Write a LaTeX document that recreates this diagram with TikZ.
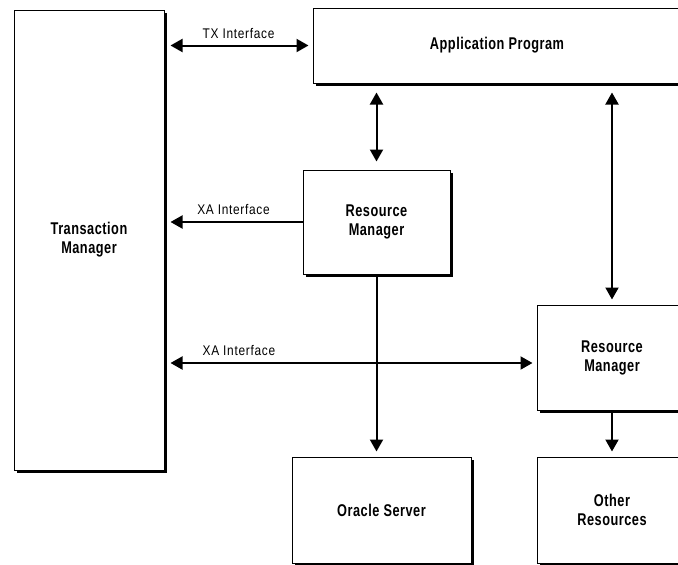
\documentclass[tikz,border=0pt]{standalone}
\usepackage{fontspec}
\setmainfont{Liberation Sans}
\newfontfamily\boxfont{Liberation Sans}[FakeStretch=0.75,LetterSpace=3]
\newfontfamily\labelfont{Liberation Sans}[FakeStretch=0.85,LetterSpace=5]
\usetikzlibrary{arrows.meta,shadows}
\tikzset{%
  box/.style={draw,line width=1pt,fill=white,align=center,inner sep=0pt,
    font=\boxfont\fontsize{17}{19}\selectfont\bfseries,
    drop shadow={shadow xshift=3pt,shadow yshift=-3pt,fill=black,opacity=1}},%
  link/.style={line width=2pt,-{Triangle[length=12pt,width=13pt]}},%
  twolink/.style={line width=2pt,{Triangle[length=12pt,width=13pt]}-{Triangle[length=12pt,width=13pt]}},%
  iface/.style={font=\labelfont\fontsize{14}{16}\selectfont,anchor=south,inner sep=0pt,yshift=6pt}%
}
\begin{document}
\begin{tikzpicture}[x=1pt,y=-1pt]%
\useasboundingbox (0,0) rectangle (678,565);%
% boxes
\node[box,minimum width=150pt,minimum height=460pt] (tm) at (89,240) {Transaction\\Manager};%
\node[box,minimum width=368pt,minimum height=75pt] (app) at (497,45.5) {Application Program};%
\node[box,minimum width=147pt,minimum height=104pt] (rmA) at (376.5,222) {Resource\\Manager};%
\node[box,minimum width=150pt,minimum height=105pt] (rmB) at (612,357.5) {Resource\\Manager};%
\node[box,minimum width=179pt,minimum height=106pt] (oracle) at (381.5,510) {Oracle Server};%
\node[box,minimum width=150pt,minimum height=106pt] (other) at (612,510) {Other\\Resources};%
%
% interfaces to the transaction manager
\draw[twolink,shorten <=6pt,shorten >=4pt] (tm.east |- app.west) -- (app.west) node[iface,midway] (txlabel) {TX Interface};%
\draw[link,shorten >=6pt] (rmA.west) -- (tm.east |- rmA.west) node[iface,midway] (xalabelA) {XA Interface};%
\draw[twolink,shorten <=6pt,shorten >=4pt] (tm.east |- 0,363) -- ([yshift=-5.5pt]rmB.west) node[iface,pos=0.2] (xalabelB) {XA Interface};%
%
% application program to resource managers
\draw[twolink,shorten <=8pt,shorten >=9pt] (rmA.north) -- (rmA.north |- app.south);%
\draw[twolink,shorten <=5pt,shorten >=9pt] (rmB.north) -- (rmB.north |- app.south);%
%
% resource managers to resources
\draw[link,shorten >=5pt] ([yshift=-2pt]rmA.south) -- (rmA.south |- oracle.north);%
\draw[link,shorten >=5pt] ([yshift=-2pt]rmB.south) -- (other.north);%
\end{tikzpicture}
\end{document}
